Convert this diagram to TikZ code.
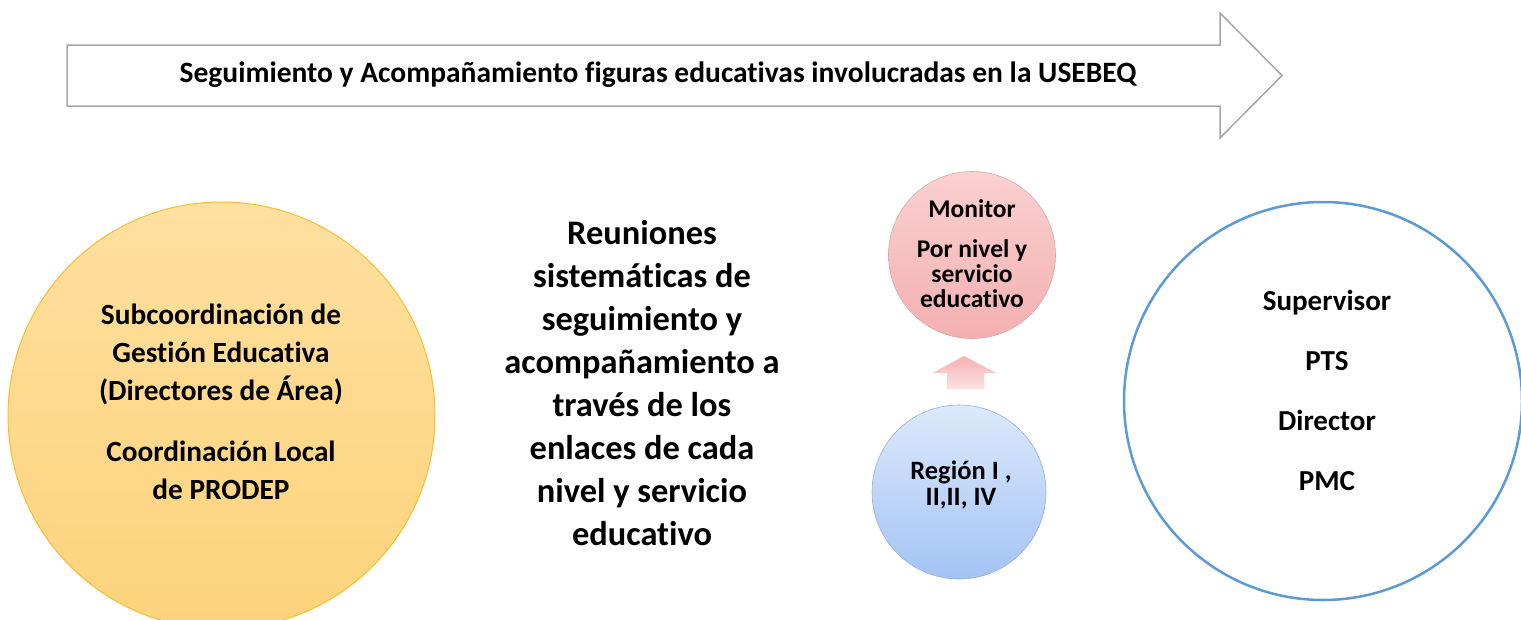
\documentclass[tikz,border=0pt]{standalone}
\usepackage{fontspec}
\setmainfont{Carlito}[Ligatures=NoCommon]

\definecolor{yelTop}{HTML}{FFE09F}
\definecolor{yelBot}{HTML}{FDD27B}
\definecolor{yelLine}{HTML}{F7BE2D}
\definecolor{pinkTop}{HTML}{FAD0D0}
\definecolor{pinkBot}{HTML}{F4B0B0}
\definecolor{bluTop}{HTML}{DDE9FB}
\definecolor{bluBot}{HTML}{A3C3F5}
\definecolor{bandLine}{HTML}{A6A6A6}
\definecolor{ringLine}{HTML}{5B9BD5}

\begin{document}
\begin{tikzpicture}[
  x=1pt, y=-1pt,
  font=\bfseries,
  circ/.style={circle, inner sep=0pt},
  lbl/.style={align=center, inner sep=0pt},
  band/.style={draw=bandLine, line width=1.5pt, fill=white, line join=miter},
  upar/.style={top color=pinkBot, bottom color=pinkTop!60!white, draw=pinkBot!60!white, line width=0.4pt}
]
\useasboundingbox (0,0) rectangle (1521,619);
\clip (0,0) rectangle (1521,619);
% banner
\draw[band] (67,45) -- (1220,45) -- (1220,13) -- (1282,75.5) -- (1220,138) -- (1220,106) -- (67,106) -- cycle;
\node[lbl, font=\bfseries\fontsize{29.5}{32}\selectfont] (title) at (658,75) {Seguimiento y Acompañamiento figuras educativas involucradas en la USEBEQ};
% left circle
\node[circ, minimum size=427pt, top color=yelTop, bottom color=yelBot, draw=yelLine, line width=1pt] (sub) at (221.5,415.5) {};
\node[lbl, font=\bfseries\fontsize{29.3}{38}\selectfont] (subtxt) at (221,402) {Subcoordinación de\\Gestión Educativa\\(Directores de Área)\\[23pt]Coordinación Local\\de PRODEP};
% middle text
\node[lbl, font=\bfseries\fontsize{34.4}{43}\selectfont] (reun) at (642,383) {Reuniones\\sistemáticas de\\seguimiento y\\acompañamiento a\\través de los\\enlaces de cada\\nivel y servicio\\educativo};
% monitor and region
\node[circ, minimum size=167pt, top color=pinkTop, bottom color=pinkBot, draw=pinkBot!80!gray, line width=0.6pt] (mon) at (972,255) {};
\node[lbl, font=\bfseries\fontsize{25.5}{25}\selectfont] (montxt) at (972,254) {Monitor\\[15pt]Por nivel y\\servicio\\educativo};
\node[circ, minimum size=174pt, top color=bluTop, bottom color=bluBot, draw=bluBot!70!gray, line width=0.6pt] (reg) at (959,492) {};
\node[lbl, font=\bfseries\fontsize{26.5}{26}\selectfont] (regtxt) at (961,485) {Región I ,\\II,II, IV};
\shade[upar] (947,389) -- (947,373) -- (933,373) -- (964,356) -- (996,373) -- (984,373) -- (984,389) -- cycle;
% right circle
\node[circ, minimum size=398pt, draw=ringLine, line width=2.5pt, fill=white] (sup) at (1323,401) {};
\node[lbl, font=\bfseries\fontsize{29}{60}\selectfont] (suptxt) at (1327,390) {Supervisor\\PTS\\Director\\PMC};
\end{tikzpicture}
\end{document}
